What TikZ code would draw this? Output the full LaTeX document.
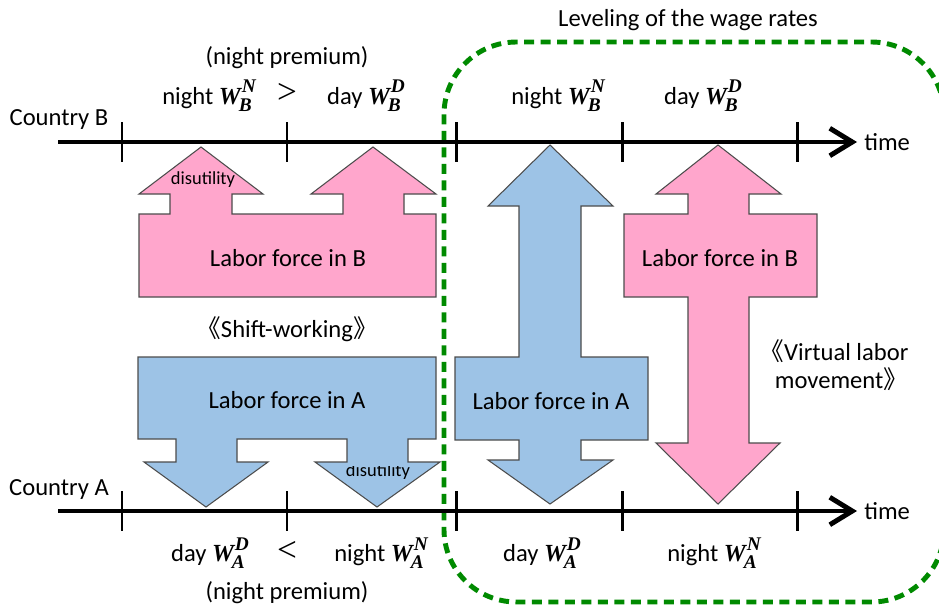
\documentclass[tikz,border=0pt]{standalone}
\usepackage{fontspec}
\setmainfont{Carlito}
\newfontfamily\wfont{Liberation Serif}
\newfontfamily\cjk{Noto Sans CJK SC}
\usepackage{tikz}
\usetikzlibrary{arrows.meta,positioning}
\usepackage{xcolor}
\definecolor{laborpink}{RGB}{255,166,204}
\definecolor{laborblue}{RGB}{157,195,230}
\definecolor{levelgreen}{RGB}{0,138,0}
% wage rate W with country subscript and shift superscript
\newcommand{\wage}[2]{{\wfont\bfseries\itshape W\kern-0.08em\rlap{\raisebox{-0.6ex}{\fontsize{11}{11}\selectfont #1}}\kern0.12em\raisebox{1.05ex}{\fontsize{11}{11}\selectfont #2}}}
\newcommand{\openq}{{\cjk 《}}
\newcommand{\closeq}{{\cjk 》}}

\begin{document}
\begin{tikzpicture}[x=0.02cm, y=-0.02cm,
    every node/.style={font=\fontsize{14}{17}\selectfont, inner sep=1pt},
    small/.style={font=\fontsize{10.5}{12}\selectfont},
    axis/.style={line width=2.8pt, -{Straight Barb[length=4.5mm,width=5.5mm]}},
    tickmark/.style={line width=1.7pt},
    pinkshape/.style={fill=laborpink, draw=black!70, line width=0.6pt},
    blueshape/.style={fill=laborblue, draw=black!70, line width=0.6pt},
    levelbox/.style={draw=levelgreen, line width=2.8pt, dash pattern=on 0.2cm off 0.13cm,
        rounded corners=1.45cm}
]
    \useasboundingbox (0,0) rectangle (939,606);

    % Leveling region
    \draw[levelbox] (444,42) rectangle (944,602);
    \node (level) at (688,20) {Leveling of the wage rates};

    % Labor force in B (shift-working)
    \draw[pinkshape] (139,297) -- (139,214) -- (170,214) -- (170,194) -- (139,194)
        -- (201,147) -- (263,194) -- (232,194) -- (232,214) -- (343,214) -- (343,194)
        -- (311,194) -- (373,147) -- (436,194) -- (404,194) -- (404,214) -- (436,214)
        -- (436,297) -- cycle;
    \node (forceB) at (288,258) {Labor force in B};
    \node[small] (disB) at (203,180) {disutility};

    % Labor force in A (shift-working)
    \draw[blueshape] (138,357) -- (436,357) -- (436,439) -- (408,439) -- (408,462)
        -- (440,462) -- (377,507) -- (315,462) -- (347,462) -- (347,439) -- (237,439)
        -- (237,462) -- (268,462) -- (206,507) -- (144,462) -- (176,462) -- (176,439)
        -- (138,439) -- cycle;
    \node (forceA) at (287,400) {Labor force in A};
    \begin{scope}
        \clip (300,466) rectangle (460,520);
        \node[small] (disA) at (378,472) {disutility};
    \end{scope}
    \node (shift) at (287,329) {\openq Shift-working\closeq};

    % Virtual labor movement
    \draw[blueshape] (550,145) -- (613,206) -- (581,206) -- (581,357) -- (648,357)
        -- (648,440) -- (581,440) -- (581,460) -- (613,460) -- (550,504) -- (488,460)
        -- (519,460) -- (519,440) -- (455,440) -- (455,357) -- (519,357) -- (519,206)
        -- (488,206) -- cycle;
    \node (moveA) at (551,401) {Labor force in A};
    \draw[pinkshape] (718,145) -- (781,194) -- (749,194) -- (749,214) -- (817,214)
        -- (817,297) -- (749,297) -- (749,443) -- (780,443) -- (718,504) -- (656,443)
        -- (688,443) -- (688,297) -- (624,297) -- (624,214) -- (688,214) -- (688,194)
        -- (656,194) -- cycle;
    \node (moveB) at (720,258) {Labor force in B};
    \node[align=center] (virtual) at (834,365) {\openq Virtual labor\\[-1pt]\hspace{0.6em}movement\closeq};

    % Time axes
    \coordinate (Bstart) at (58,142);
    \coordinate (Bend) at (857,142);
    \coordinate (Astart) at (58,511);
    \coordinate (Aend) at (857,511);
    \draw[axis] (Bstart) -- (Bend);
    \draw[axis] (Astart) -- (Aend);
    \foreach \t in {122,287,456,622,797} {
        \draw[tickmark] (\t,122) -- (\t,162);
        \draw[tickmark] (\t,491) -- (\t,531);
    }
    \node[right=3pt of Bend] (timeB) {time};
    \node[right=3pt of Aend] (timeA) {time};
    \node (countryB) at (59,119) {Country B};
    \node (countryA) at (59,489) {Country A};

    % Wage rates in B
    \node (premB) at (287,58) {(night premium)};
    \node (nightB) at (209,96) {night \wage{B}{N}};
    \node (gtB) at (287,93) {\fontsize{20}{20}\selectfont\wfont >};
    \node (dayB) at (366,96) {day \wage{B}{D}};
    \node (nightB2) at (558,96) {night \wage{B}{N}};
    \node (dayB2) at (703,96) {day \wage{B}{D}};

    % Wage rates in A
    \node (dayA) at (210,553) {day \wage{A}{D}};
    \node (ltA) at (287,551) {\fontsize{20}{20}\selectfont\wfont <};
    \node (nightA) at (381,553) {night \wage{A}{N}};
    \node (premA) at (287,593) {(night premium)};
    \node (dayA2) at (542,553) {day \wage{A}{D}};
    \node (nightA2) at (714,553) {night \wage{A}{N}};
\end{tikzpicture}
\end{document}
